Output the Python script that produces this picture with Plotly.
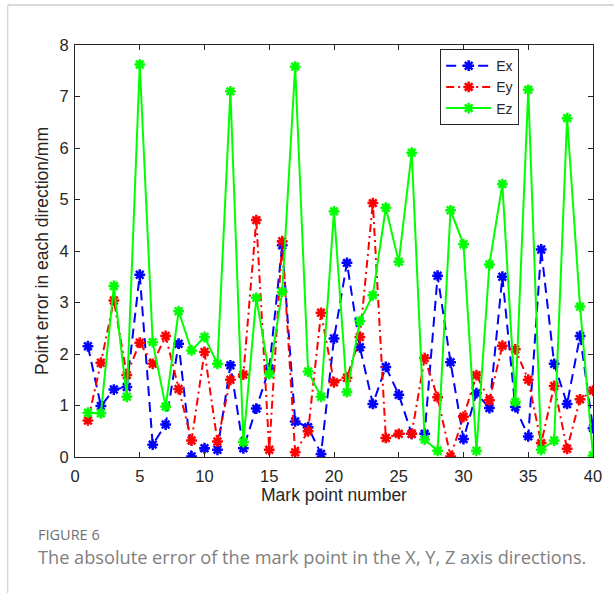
import plotly.graph_objects as go

points = list(range(1, 41))

ex = [2.15, 0.99, 1.31, 1.36, 3.54, 0.24, 0.63, 2.20, 0.01, 0.17,
      0.14, 1.78, 0.17, 0.94, 1.72, 4.11, 0.69, 0.58, 0.06, 2.30,
      3.77, 2.13, 1.03, 1.75, 1.21, 0.45, 0.45, 3.52, 1.84, 0.35,
      1.24, 0.95, 3.50, 0.97, 0.40, 4.03, 1.81, 1.03, 2.35, 0.56]

ey = [0.71, 1.83, 3.04, 1.59, 2.22, 1.81, 2.35, 1.32, 0.32, 2.04,
      0.30, 1.50, 1.60, 4.60, 0.14, 4.19, 0.09, 0.50, 2.80, 1.45,
      1.54, 2.33, 4.93, 0.37, 0.45, 0.45, 1.92, 1.16, 0.01, 0.78,
      1.59, 1.10, 2.16, 2.09, 1.50, 0.27, 1.38, 0.16, 1.12, 1.29]

ez = [0.86, 0.85, 3.32, 1.17, 7.62, 2.23, 0.98, 2.83, 2.07, 2.33,
      1.81, 7.10, 0.29, 3.09, 1.61, 3.21, 7.58, 1.66, 1.17, 4.77,
      1.26, 2.64, 3.14, 4.84, 3.79, 5.91, 0.34, 0.12, 4.79, 4.13,
      0.12, 3.74, 5.30, 1.07, 7.13, 0.14, 0.32, 6.58, 2.92, 0.03]

x_ticks = [0, 5, 10, 15, 20, 25, 30, 35, 40]
y_ticks = [0, 1, 2, 3, 4, 5, 6, 7, 8]

fig = go.Figure()

series = [
    ("Ex", ex, "#0000FF", "10px,6px"),
    ("Ey", ey, "#FF0000", "8px,4px,2px,4px"),
    ("Ez", ez, "#00FF00", "solid"),
]
for name, vals, col, dash in series:
    fig.add_trace(go.Scatter(
        x=points, y=vals, name=name, mode="lines+markers",
        line=dict(color=col, width=2, dash=dash),
        marker=dict(symbol="asterisk-open", size=9, color=col,
                    line=dict(color=col, width=2.5)),
    ))

font_ax = "Liberation Sans"
axis_common = dict(
    showgrid=False, zeroline=False, showline=True, linecolor="#262626",
    linewidth=1, mirror="allticks", ticks="inside", ticklen=5,
    tickcolor="#262626", tickfont=dict(family=font_ax, size=16.5, color="#262626"),
)

fig.update_xaxes(range=[0, 40], tickvals=x_ticks, **axis_common,
                 ticklabelstandoff=4,
                 title=dict(text="Mark point number",
                            font=dict(family=font_ax, size=17.5, color="#262626"),
                            standoff=4))
fig.update_yaxes(range=[0, 8], tickvals=y_ticks, **axis_common,
                 ticklabelstandoff=2,
                 title=dict(text="Point error in each direction/mm",
                            font=dict(family=font_ax, size=17.5, color="#262626"),
                            standoff=6))

fig.update_layout(
    width=614, height=593,
    margin=dict(l=75, r=17, t=45, b=136),
    paper_bgcolor="white", plot_bgcolor="white",
    showlegend=True,
    legend=dict(x=0.705, y=0.99, xanchor="left", yanchor="top",
                bgcolor="white", bordercolor="#262626", borderwidth=1,
                font=dict(family=font_ax, size=14, color="#262626"),
                itemwidth=45, tracegroupgap=0),
    shapes=[
        dict(type="line", xref="paper", yref="paper",
             x0=-0.130, x1=1.04, y0=1.097, y1=1.097,
             line=dict(color="#d9d9d9", width=2)),
        dict(type="line", xref="paper", yref="paper",
             x0=-0.130, x1=-0.130, y0=1.097, y1=-0.33,
             line=dict(color="#d9d9d9", width=1.5)),
    ],
    annotations=[
        dict(text="FIGURE 6", xref="paper", yref="paper",
             x=(36 - 75) / 522, y=(457 - 534) / 412, xanchor="left", yanchor="middle",
             showarrow=False, font=dict(family="Open Sans", size=14.5, color="#707070")),
        dict(text="The absolute error of the mark point in the X, Y, Z axis directions.",
             xref="paper", yref="paper",
             x=(36 - 75) / 522, y=(457 - 557) / 412, xanchor="left", yanchor="middle",
             showarrow=False, font=dict(family="Open Sans", size=18.2, color="#808080")),
    ],
)

fig.write_html("out.html")
